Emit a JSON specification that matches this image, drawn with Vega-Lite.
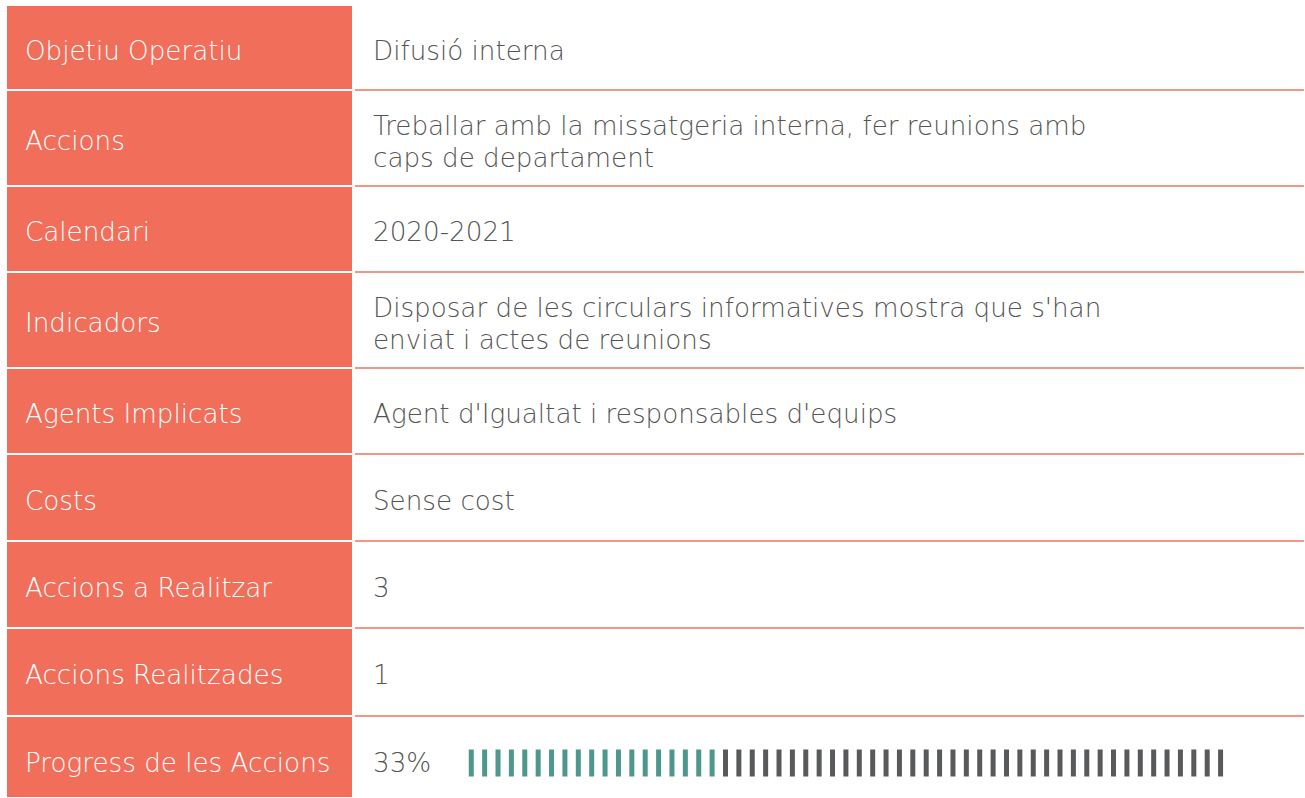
{
  "$schema": "https://vega.github.io/schema/vega-lite/v6.json",
  "padding": {"left": 0, "right": 0, "top": 4, "bottom": 0},
  "background": "white",
  "bounds": "flush",
  "spacing": 0,
  "config": {
    "view": {"stroke": null},
    "concat": {"spacing": 0},
    "text": {"font": "DejaVu Sans", "fontSize": 26.2, "fontWeight": 200}
  },
  "datasets": {
    "files": [
      {"camp": "Objetiu Operatiu", "valor": "Difusió interna"},
      {"camp": "Accions", "valor": "Treballar amb la missatgeria interna, fer reunions amb\ncaps de departament"},
      {"camp": "Calendari", "valor": "2020-2021"},
      {"camp": "Indicadors", "valor": "Disposar de les circulars informatives mostra que s'han\nenviat i actes de reunions"},
      {"camp": "Agents Implicats", "valor": "Agent d'Igualtat i responsables d'equips"},
      {"camp": "Costs", "valor": "Sense cost"},
      {"camp": "Accions a Realitzar", "valor": "3"},
      {"camp": "Accions Realitzades", "valor": "1"},
      {"camp": "Progress de les Accions", "valor": "33%"}
    ],
    "barres": [
      {"i": 1, "estat": "fet"}, {"i": 2, "estat": "fet"}, {"i": 3, "estat": "fet"}, {"i": 4, "estat": "fet"},
      {"i": 5, "estat": "fet"}, {"i": 6, "estat": "fet"}, {"i": 7, "estat": "fet"}, {"i": 8, "estat": "fet"},
      {"i": 9, "estat": "fet"}, {"i": 10, "estat": "fet"}, {"i": 11, "estat": "fet"}, {"i": 12, "estat": "fet"},
      {"i": 13, "estat": "fet"}, {"i": 14, "estat": "fet"}, {"i": 15, "estat": "fet"}, {"i": 16, "estat": "fet"},
      {"i": 17, "estat": "fet"}, {"i": 18, "estat": "fet"}, {"i": 19, "estat": "fet"},
      {"i": 20, "estat": "pendent"}, {"i": 21, "estat": "pendent"}, {"i": 22, "estat": "pendent"},
      {"i": 23, "estat": "pendent"}, {"i": 24, "estat": "pendent"}, {"i": 25, "estat": "pendent"},
      {"i": 26, "estat": "pendent"}, {"i": 27, "estat": "pendent"}, {"i": 28, "estat": "pendent"},
      {"i": 29, "estat": "pendent"}, {"i": 30, "estat": "pendent"}, {"i": 31, "estat": "pendent"},
      {"i": 32, "estat": "pendent"}, {"i": 33, "estat": "pendent"}, {"i": 34, "estat": "pendent"},
      {"i": 35, "estat": "pendent"}, {"i": 36, "estat": "pendent"}, {"i": 37, "estat": "pendent"},
      {"i": 38, "estat": "pendent"}, {"i": 39, "estat": "pendent"}, {"i": 40, "estat": "pendent"},
      {"i": 41, "estat": "pendent"}, {"i": 42, "estat": "pendent"}, {"i": 43, "estat": "pendent"},
      {"i": 44, "estat": "pendent"}, {"i": 45, "estat": "pendent"}, {"i": 46, "estat": "pendent"},
      {"i": 47, "estat": "pendent"}, {"i": 48, "estat": "pendent"}, {"i": 49, "estat": "pendent"},
      {"i": 50, "estat": "pendent"}, {"i": 51, "estat": "pendent"}, {"i": 52, "estat": "pendent"},
      {"i": 53, "estat": "pendent"}, {"i": 54, "estat": "pendent"}, {"i": 55, "estat": "pendent"},
      {"i": 56, "estat": "pendent"}, {"i": 57, "estat": "pendent"}
    ]
  },
  "data": {"name": "files"},
  "vconcat": [
    {
      "height": 85, "width": 1305,
      "transform": [{"filter": {"field": "camp", "equal": "Objetiu Operatiu"}}],
      "layer": [
        {"mark": {"type": "rect", "fill": "#F06E5A", "stroke": "white", "strokeWidth": 2},
         "encoding": {"x": {"datum": 6, "type": "quantitative", "scale": {"domain": [0, 1305], "nice": false, "zero": false}, "axis": null}, "x2": {"datum": 353}}},
        {"mark": {"type": "text", "align": "left", "baseline": "middle", "color": "white", "dy": 4},
         "encoding": {"x": {"datum": 25, "type": "quantitative", "scale": {"domain": [0, 1305], "nice": false, "zero": false}, "axis": null}, "text": {"field": "camp"}}},
        {"mark": {"type": "text", "align": "left", "baseline": "middle", "color": "#555555", "lineBreak": "\n", "lineHeight": 32, "dy": 4},
         "encoding": {"x": {"datum": 373, "type": "quantitative", "scale": {"domain": [0, 1305], "nice": false, "zero": false}, "axis": null}, "text": {"field": "valor"}}},
        {"mark": {"type": "rule", "color": "#F07460", "strokeWidth": 1.5},
         "encoding": {"x": {"datum": 355, "type": "quantitative", "scale": {"domain": [0, 1305], "nice": false, "zero": false}, "axis": null}, "x2": {"datum": 1304}, "y": {"datum": 0, "type": "quantitative", "scale": {"domain": [0, 1]}, "axis": null}}}
      ]
    },
    {
      "height": 96, "width": 1305,
      "transform": [{"filter": {"field": "camp", "equal": "Accions"}}],
      "layer": [
        {"mark": {"type": "rect", "fill": "#F06E5A", "stroke": "white", "strokeWidth": 2},
         "encoding": {"x": {"datum": 6, "type": "quantitative", "scale": {"domain": [0, 1305], "nice": false, "zero": false}, "axis": null}, "x2": {"datum": 353}}},
        {"mark": {"type": "text", "align": "left", "baseline": "middle", "color": "white", "dy": 4},
         "encoding": {"x": {"datum": 25, "type": "quantitative", "scale": {"domain": [0, 1305], "nice": false, "zero": false}, "axis": null}, "text": {"field": "camp"}}},
        {"mark": {"type": "text", "align": "left", "baseline": "middle", "color": "#555555", "lineBreak": "\n", "lineHeight": 32, "dy": -11},
         "encoding": {"x": {"datum": 373, "type": "quantitative", "scale": {"domain": [0, 1305], "nice": false, "zero": false}, "axis": null}, "text": {"field": "valor"}}},
        {"mark": {"type": "rule", "color": "#F07460", "strokeWidth": 1.5},
         "encoding": {"x": {"datum": 355, "type": "quantitative", "scale": {"domain": [0, 1305], "nice": false, "zero": false}, "axis": null}, "x2": {"datum": 1304}, "y": {"datum": 0, "type": "quantitative", "scale": {"domain": [0, 1]}, "axis": null}}}
      ]
    },
    {
      "height": 86, "width": 1305,
      "transform": [{"filter": {"field": "camp", "equal": "Calendari"}}],
      "layer": [
        {"mark": {"type": "rect", "fill": "#F06E5A", "stroke": "white", "strokeWidth": 2},
         "encoding": {"x": {"datum": 6, "type": "quantitative", "scale": {"domain": [0, 1305], "nice": false, "zero": false}, "axis": null}, "x2": {"datum": 353}}},
        {"mark": {"type": "text", "align": "left", "baseline": "middle", "color": "white", "dy": 4},
         "encoding": {"x": {"datum": 25, "type": "quantitative", "scale": {"domain": [0, 1305], "nice": false, "zero": false}, "axis": null}, "text": {"field": "camp"}}},
        {"mark": {"type": "text", "align": "left", "baseline": "middle", "color": "#555555", "lineBreak": "\n", "lineHeight": 32, "dy": 4},
         "encoding": {"x": {"datum": 373, "type": "quantitative", "scale": {"domain": [0, 1305], "nice": false, "zero": false}, "axis": null}, "text": {"field": "valor"}}},
        {"mark": {"type": "rule", "color": "#F07460", "strokeWidth": 1.5},
         "encoding": {"x": {"datum": 355, "type": "quantitative", "scale": {"domain": [0, 1305], "nice": false, "zero": false}, "axis": null}, "x2": {"datum": 1304}, "y": {"datum": 0, "type": "quantitative", "scale": {"domain": [0, 1]}, "axis": null}}}
      ]
    },
    {
      "height": 96, "width": 1305,
      "transform": [{"filter": {"field": "camp", "equal": "Indicadors"}}],
      "layer": [
        {"mark": {"type": "rect", "fill": "#F06E5A", "stroke": "white", "strokeWidth": 2},
         "encoding": {"x": {"datum": 6, "type": "quantitative", "scale": {"domain": [0, 1305], "nice": false, "zero": false}, "axis": null}, "x2": {"datum": 353}}},
        {"mark": {"type": "text", "align": "left", "baseline": "middle", "color": "white", "dy": 4},
         "encoding": {"x": {"datum": 25, "type": "quantitative", "scale": {"domain": [0, 1305], "nice": false, "zero": false}, "axis": null}, "text": {"field": "camp"}}},
        {"mark": {"type": "text", "align": "left", "baseline": "middle", "color": "#555555", "lineBreak": "\n", "lineHeight": 32, "dy": -11},
         "encoding": {"x": {"datum": 373, "type": "quantitative", "scale": {"domain": [0, 1305], "nice": false, "zero": false}, "axis": null}, "text": {"field": "valor"}}},
        {"mark": {"type": "rule", "color": "#F07460", "strokeWidth": 1.5},
         "encoding": {"x": {"datum": 355, "type": "quantitative", "scale": {"domain": [0, 1305], "nice": false, "zero": false}, "axis": null}, "x2": {"datum": 1304}, "y": {"datum": 0, "type": "quantitative", "scale": {"domain": [0, 1]}, "axis": null}}}
      ]
    },
    {
      "height": 86, "width": 1305,
      "transform": [{"filter": {"field": "camp", "equal": "Agents Implicats"}}],
      "layer": [
        {"mark": {"type": "rect", "fill": "#F06E5A", "stroke": "white", "strokeWidth": 2},
         "encoding": {"x": {"datum": 6, "type": "quantitative", "scale": {"domain": [0, 1305], "nice": false, "zero": false}, "axis": null}, "x2": {"datum": 353}}},
        {"mark": {"type": "text", "align": "left", "baseline": "middle", "color": "white", "dy": 4},
         "encoding": {"x": {"datum": 25, "type": "quantitative", "scale": {"domain": [0, 1305], "nice": false, "zero": false}, "axis": null}, "text": {"field": "camp"}}},
        {"mark": {"type": "text", "align": "left", "baseline": "middle", "color": "#555555", "lineBreak": "\n", "lineHeight": 32, "dy": 4},
         "encoding": {"x": {"datum": 373, "type": "quantitative", "scale": {"domain": [0, 1305], "nice": false, "zero": false}, "axis": null}, "text": {"field": "valor"}}},
        {"mark": {"type": "rule", "color": "#F07460", "strokeWidth": 1.5},
         "encoding": {"x": {"datum": 355, "type": "quantitative", "scale": {"domain": [0, 1305], "nice": false, "zero": false}, "axis": null}, "x2": {"datum": 1304}, "y": {"datum": 0, "type": "quantitative", "scale": {"domain": [0, 1]}, "axis": null}}}
      ]
    },
    {
      "height": 87, "width": 1305,
      "transform": [{"filter": {"field": "camp", "equal": "Costs"}}],
      "layer": [
        {"mark": {"type": "rect", "fill": "#F06E5A", "stroke": "white", "strokeWidth": 2},
         "encoding": {"x": {"datum": 6, "type": "quantitative", "scale": {"domain": [0, 1305], "nice": false, "zero": false}, "axis": null}, "x2": {"datum": 353}}},
        {"mark": {"type": "text", "align": "left", "baseline": "middle", "color": "white", "dy": 4},
         "encoding": {"x": {"datum": 25, "type": "quantitative", "scale": {"domain": [0, 1305], "nice": false, "zero": false}, "axis": null}, "text": {"field": "camp"}}},
        {"mark": {"type": "text", "align": "left", "baseline": "middle", "color": "#555555", "lineBreak": "\n", "lineHeight": 32, "dy": 4},
         "encoding": {"x": {"datum": 373, "type": "quantitative", "scale": {"domain": [0, 1305], "nice": false, "zero": false}, "axis": null}, "text": {"field": "valor"}}},
        {"mark": {"type": "rule", "color": "#F07460", "strokeWidth": 1.5},
         "encoding": {"x": {"datum": 355, "type": "quantitative", "scale": {"domain": [0, 1305], "nice": false, "zero": false}, "axis": null}, "x2": {"datum": 1304}, "y": {"datum": 0, "type": "quantitative", "scale": {"domain": [0, 1]}, "axis": null}}}
      ]
    },
    {
      "height": 87, "width": 1305,
      "transform": [{"filter": {"field": "camp", "equal": "Accions a Realitzar"}}],
      "layer": [
        {"mark": {"type": "rect", "fill": "#F06E5A", "stroke": "white", "strokeWidth": 2},
         "encoding": {"x": {"datum": 6, "type": "quantitative", "scale": {"domain": [0, 1305], "nice": false, "zero": false}, "axis": null}, "x2": {"datum": 353}}},
        {"mark": {"type": "text", "align": "left", "baseline": "middle", "color": "white", "dy": 4},
         "encoding": {"x": {"datum": 25, "type": "quantitative", "scale": {"domain": [0, 1305], "nice": false, "zero": false}, "axis": null}, "text": {"field": "camp"}}},
        {"mark": {"type": "text", "align": "left", "baseline": "middle", "color": "#555555", "lineBreak": "\n", "lineHeight": 32, "dy": 4},
         "encoding": {"x": {"datum": 373, "type": "quantitative", "scale": {"domain": [0, 1305], "nice": false, "zero": false}, "axis": null}, "text": {"field": "valor"}}},
        {"mark": {"type": "rule", "color": "#F07460", "strokeWidth": 1.5},
         "encoding": {"x": {"datum": 355, "type": "quantitative", "scale": {"domain": [0, 1305], "nice": false, "zero": false}, "axis": null}, "x2": {"datum": 1304}, "y": {"datum": 0, "type": "quantitative", "scale": {"domain": [0, 1]}, "axis": null}}}
      ]
    },
    {
      "height": 88, "width": 1305,
      "transform": [{"filter": {"field": "camp", "equal": "Accions Realitzades"}}],
      "layer": [
        {"mark": {"type": "rect", "fill": "#F06E5A", "stroke": "white", "strokeWidth": 2},
         "encoding": {"x": {"datum": 6, "type": "quantitative", "scale": {"domain": [0, 1305], "nice": false, "zero": false}, "axis": null}, "x2": {"datum": 353}}},
        {"mark": {"type": "text", "align": "left", "baseline": "middle", "color": "white", "dy": 4},
         "encoding": {"x": {"datum": 25, "type": "quantitative", "scale": {"domain": [0, 1305], "nice": false, "zero": false}, "axis": null}, "text": {"field": "camp"}}},
        {"mark": {"type": "text", "align": "left", "baseline": "middle", "color": "#555555", "lineBreak": "\n", "lineHeight": 32, "dy": 4},
         "encoding": {"x": {"datum": 373, "type": "quantitative", "scale": {"domain": [0, 1305], "nice": false, "zero": false}, "axis": null}, "text": {"field": "valor"}}},
        {"mark": {"type": "rule", "color": "#F07460", "strokeWidth": 1.5},
         "encoding": {"x": {"datum": 355, "type": "quantitative", "scale": {"domain": [0, 1305], "nice": false, "zero": false}, "axis": null}, "x2": {"datum": 1304}, "y": {"datum": 0, "type": "quantitative", "scale": {"domain": [0, 1]}, "axis": null}}}
      ]
    },
    {
      "height": 82, "width": 1305,
      "resolve": {"scale": {"x": "independent"}},
      "layer": [
        {"transform": [{"filter": {"field": "camp", "equal": "Progress de les Accions"}}],
         "mark": {"type": "rect", "fill": "#F06E5A", "stroke": "white", "strokeWidth": 2},
         "encoding": {"x": {"datum": 6, "type": "quantitative", "scale": {"domain": [0, 1305], "nice": false, "zero": false}, "axis": null}, "x2": {"datum": 353}}},
        {"transform": [{"filter": {"field": "camp", "equal": "Progress de les Accions"}}],
         "mark": {"type": "text", "align": "left", "baseline": "middle", "color": "white", "dy": 7},
         "encoding": {"x": {"datum": 25, "type": "quantitative", "scale": {"domain": [0, 1305], "nice": false, "zero": false}, "axis": null}, "text": {"field": "camp"}}},
        {"transform": [{"filter": {"field": "camp", "equal": "Progress de les Accions"}}],
         "mark": {"type": "text", "align": "left", "baseline": "middle", "color": "#555555", "dy": 7},
         "encoding": {"x": {"datum": 373, "type": "quantitative", "scale": {"domain": [0, 1305], "nice": false, "zero": false}, "axis": null}, "text": {"field": "valor"}}},
        {"data": {"name": "barres"},
         "mark": {"type": "tick", "thickness": 5, "size": 27, "yOffset": 6, "opacity": 1},
         "encoding": {
           "x": {"field": "i", "type": "quantitative", "scale": {"domain": [-34.22, 63.31], "nice": false, "zero": false}, "axis": null},
           "color": {"field": "estat", "type": "nominal", "scale": {"domain": ["fet", "pendent"], "range": ["#4E978C", "#58595B"]}, "legend": null}
         }}
      ]
    }
  ]
}
